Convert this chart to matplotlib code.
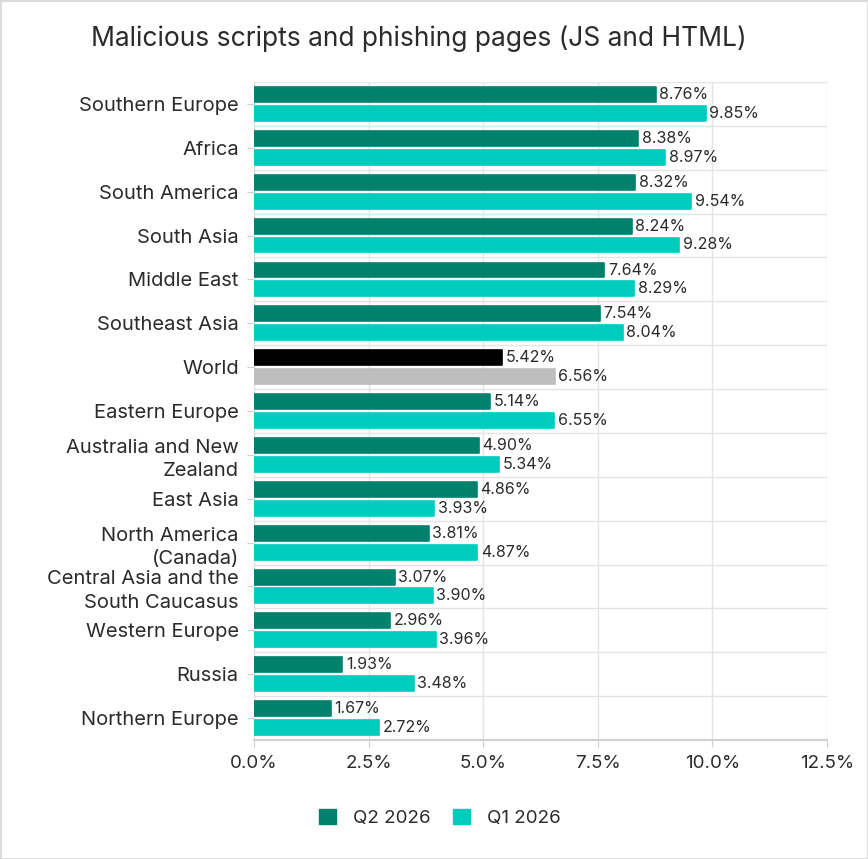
import numpy as np
import matplotlib
matplotlib.use('Agg')
import matplotlib.pyplot as plt
from matplotlib.patches import Patch
from matplotlib.ticker import FuncFormatter, MultipleLocator

regions = ['Southern Europe', 'Africa', 'South America', 'South Asia', 'Middle East',
           'Southeast Asia', 'World', 'Eastern Europe', 'Australia and New\nZealand',
           'East Asia', 'North America\n(Canada)', 'Central Asia and the\nSouth Caucasus',
           'Western Europe', 'Russia', 'Northern Europe']
q2_2026 = [8.76, 8.38, 8.32, 8.24, 7.64, 7.54, 5.42, 5.14, 4.90, 4.86, 3.81, 3.07, 2.96, 1.93, 1.67]
q1_2026 = [9.85, 8.97, 9.54, 9.28, 8.29, 8.04, 6.56, 6.55, 5.34, 3.93, 4.87, 3.90, 3.96, 3.48, 2.72]

c_q2 = '#00816d'
c_q1 = '#00ccbe'
txt = '#2b2b2b'

plt.rcParams['font.family'] = ['Inter', 'DejaVu Sans']

fig = plt.figure(figsize=(8.68, 8.59), dpi=100)
ax = fig.add_axes([0.2926, 0.1385, 0.6602, 0.766])

y = np.arange(len(regions))
h = 0.34
cols2 = ['#000000' if r == 'World' else c_q2 for r in regions]
cols1 = ['#bebebe' if r == 'World' else c_q1 for r in regions]

b2 = ax.barh(y - 0.215, q2_2026, height=h, color=cols2, edgecolor=cols2,
             linewidth=1.2, joinstyle='round', zorder=3)
b1 = ax.barh(y + 0.215, q1_2026, height=h, color=cols1, edgecolor=cols1,
             linewidth=1.2, joinstyle='round', zorder=3)

for bars, vals in ((b2, q2_2026), (b1, q1_2026)):
    for b, v in zip(bars, vals):
        ax.text(v + 0.08, b.get_y() + b.get_height() / 2, f'{v:.2f}%',
                va='center', ha='left', fontsize=11.5, color=txt, zorder=4)

ax.set_xlim(0, 12.5)
ax.set_ylim(len(regions) - 0.5, -0.5)
ax.xaxis.set_major_locator(MultipleLocator(2.5))
ax.xaxis.set_major_formatter(FuncFormatter(lambda v, p: f'{v:.1f}%'))
ax.set_yticks(y)
ax.set_yticklabels(regions, fontsize=14.5, color=txt, linespacing=1.4)
ax.set_yticks(np.arange(len(regions) + 1) - 0.5, minor=True)
ax.tick_params(axis='y', which='major', length=5, color='#d0d0d0', pad=6)
ax.tick_params(axis='y', which='minor', length=0)
ax.tick_params(axis='x', which='major', length=5, color='#d0d0d0', labelsize=13.5,
               labelcolor=txt, pad=6)

ax.grid(axis='x', which='major', color='#e4e4e4', linewidth=1, zorder=0)
ax.grid(axis='y', which='minor', color='#e4e4e4', linewidth=1, zorder=0)
for s in ('top', 'right'):
    ax.spines[s].set_visible(False)
ax.spines['left'].set_color('#e0e0e0')
ax.spines['bottom'].set_color('#d0d0d0')
ax.spines['bottom'].set_linewidth(1.5)

fig.text(0.482, 0.955, 'Malicious scripts and phishing pages (JS and HTML)',
         ha='center', va='center', fontsize=19, color=txt)

handles = [Patch(color=c_q2, label='Q2 2026'), Patch(color=c_q1, label='Q1 2026')]
fig.legend(handles=handles, loc='center', bbox_to_anchor=(0.507, 0.048), ncol=2,
           frameon=False, fontsize=13.5, handlelength=0.9, handleheight=0.9,
           columnspacing=1.2, handletextpad=0.9, labelcolor=txt)

fig.patches.append(plt.Rectangle((0, 0), 1, 1, transform=fig.transFigure,
                                 fill=False, edgecolor='#d9d9d9', linewidth=2))

fig.savefig('out.png', dpi=100)
